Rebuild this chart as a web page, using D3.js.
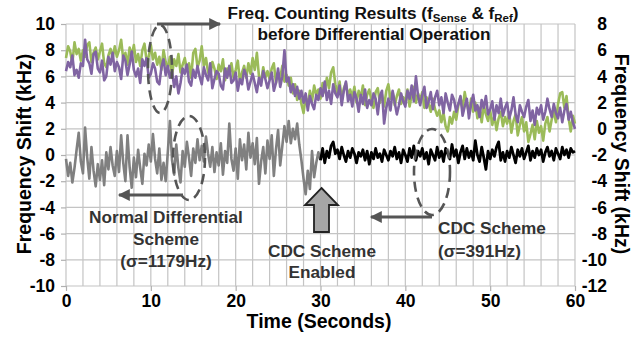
<!DOCTYPE html>
<html>
<head>
<meta charset="utf-8">
<script src="https://cdn.jsdelivr.net/npm/d3@7"></script>
<style>
  html, body { margin: 0; padding: 0; background: #fff; }
  svg { display: block; font-family: "Liberation Sans", Arial, sans-serif; }
</style>
</head>
<body>
<svg id="chart" width="632" height="338"></svg>
<script>
// Sample spacing of the counter output (seconds)
const sampleStep = 0.25;

// f_Sense counting result (right axis, kHz), 0–60 s
const senseValues = [
  5.4, 6.3, 5.9, 5.0, 6.6, 5.7, 6.1, 5.2,
  6.0, 5.5, 6.4, 6.6, 5.1, 5.8, 6.2, 5.3,
  5.9, 6.5, 5.0, 4.7, 5.6, 6.1, 5.4, 6.3,
  5.5, 6.0, 6.8, 5.3, 5.8, 4.9, 6.2, 5.6,
  6.4, 5.1, 5.7, 4.8, 6.0, 6.5, 5.2, 5.5,
  6.4, 5.3, 5.8, 4.9, 5.5, 4.5, 6.0, 5.1,
  4.6, 5.5, 4.1, 5.3, 4.8, 5.7, 4.3, 4.9,
  5.4, 4.5, 5.0, 3.9, 5.8, 6.1, 4.7, 5.2,
  6.3, 4.8, 5.4, 4.3, 4.0, 5.1, 4.6, 3.8,
  4.9, 4.4, 5.3, 3.7, 4.6, 4.1, 5.0, 3.9,
  4.5, 5.2, 3.6, 4.3, 4.8, 3.9, 5.0, 4.2,
  5.4, 4.5, 5.8, 4.0, 3.6, 4.7, 3.9, 4.4,
  3.8, 4.6, 5.0, 3.5, 4.3, 3.9, 4.8, 3.6,
  4.1, 3.3, 3.9, 2.7, 3.4, 2.2, 2.9, 1.9,
  1.2, 2.4, 1.8, 2.9, 2.1, 3.3, 2.6, 3.0,
  2.3, 3.5, 2.8, 3.9, 3.1, 4.3, 4.7, 3.4,
  2.7, 3.6, 2.2, 3.1, 3.5, 2.5, 3.0, 2.4,
  3.2, 2.0, 2.9, 2.4, 3.3, 1.8, 2.6, 3.0,
  2.2, 1.6, 2.8, 3.1, 2.0, 2.6, 1.7, 2.9,
  3.4, 2.3, 2.8, 1.8, 2.5, 3.0, 1.9, 2.4,
  2.1, 3.0, 1.7, 2.6, 3.2, 2.0, 2.7, 2.2,
  2.8, 1.6, 2.4, 1.9, 1.3, 2.3, 1.5, 1.0,
  1.4, 0.5, 1.2, 0.2, -0.2, 0.9, 0.4, 1.3,
  0.7, 1.8, 2.4, 1.5, 2.8, 1.9, 1.2, 2.3,
  1.3, 2.0, 0.8, 1.6, 0.5, 1.8, 1.1, 0.6,
  1.4, 0.3, 1.0, -0.1, 0.8, 1.3, 0.2, 0.9,
  0.4, 1.2, -0.3, 0.6, 1.1, -0.5, 0.3, 0.9,
  -0.2, 0.5, -1.0, -0.4, 0.3, -0.8, 0.6, -0.3,
  0.2, -0.9, 0.4, 0.9, -0.2, 0.7, 1.4, 0.5,
  1.9, 2.7, 2.8, 1.6, 2.5, 0.8, -0.2, 1.0,
  0.4
];

// f_Ref counting result (right axis, kHz), 0–60 s
const refValues = [
  4.4, 5.1, 4.7, 5.6, 4.1, 4.5, 3.9, 5.0,
  4.8, 6.8, 5.3, 5.0, 4.2, 5.7, 5.9, 4.6,
  4.3, 5.2, 3.7, 4.0, 5.5, 4.9, 5.8, 4.4,
  5.1, 4.7, 3.8, 5.6, 5.2, 4.1, 4.9, 5.9,
  4.5, 4.0, 4.6, 3.5, 5.3, 4.8, 5.4, 3.9,
  4.2, 5.0, 4.6, 3.6, 3.4, 4.7, 5.3, 4.1,
  4.8, 3.9, 4.4, 3.2, 4.0, 2.7, 3.5, 4.6,
  4.2, 4.9, 3.6, 3.3, 4.5, 3.9, 4.8, 4.0,
  3.4, 4.7, 4.1, 3.7, 5.0, 3.1, 3.8, 4.4,
  4.2, 3.3, 3.0, 4.6, 3.9, 4.8, 3.5, 3.7,
  4.3, 2.9, 3.8, 3.4, 4.5, 4.1, 3.0, 3.6,
  4.2, 3.5, 2.8, 3.9, 3.3, 4.4, 3.8, 3.1,
  3.7, 4.3, 2.9, 3.5, 4.6, 3.2, 4.0, 6.0,
  3.6, 3.9, 2.8, 3.4, 2.5, 3.2, 2.3, 2.9,
  2.0, 2.7, 1.4, 2.5, 1.9, 1.5, 2.6, 2.2,
  3.1, 2.5, 3.6, 2.2, 2.9, 1.9, 3.4, 2.7,
  2.4, 3.3, 1.8, 2.9, 3.6, 2.1, 2.6, 1.7,
  2.8, 2.3, 1.3, 2.6, 1.9, 3.0, 1.6, 2.2,
  1.8, 2.7, 2.3, 1.1, 2.5, 2.9, 0.4, 1.6,
  2.3, 1.4, 2.9, 2.0, 1.1, 1.8, 2.7, 2.1,
  1.7, 2.9, 2.3, 3.3, 2.1, 4.0, 2.5, 1.8,
  2.6, 3.2, 1.6, 2.1, 2.8, 1.5, 2.4, 2.9,
  1.8, 2.4, 1.2, 2.7, 2.0, 1.4, 2.6, 2.2,
  1.3, 1.9, 2.5, 1.0, 1.7, 2.3, 0.8, 1.9,
  2.6, 1.4, 1.8, 0.9, 2.2, 1.6, 2.5, 1.1,
  1.5, 2.1, 0.7, 1.8, 1.2, 2.3, 1.0, 1.6,
  2.0, 0.8, 1.4, 2.4, 1.1, 0.5, 1.8, 1.3,
  0.9, 1.7, 2.2, 0.6, 1.4, 0.3, 1.6, 1.1,
  1.8, 0.7, 1.3, 2.3, 1.5, 0.9, 1.9, 1.2,
  0.8, 1.6, 0.5, 1.4, 1.9, 0.7, 1.3, 0.5,
  0.0
];

// Normal differential result (left axis, kHz), 0–30 s
const normalDiffValues = [
  -0.3, -1.6, -0.6, -2.1, -1.0, 0.4, 1.7, -0.5,
  -1.4, 2.1, -0.2, -1.8, 0.6, -1.2, -2.4, -0.7,
  -1.9, -0.4, -2.3, 0.2, -1.1, 0.6, -0.8, -1.6,
  0.3, -1.3, 1.5, -0.6, -2.0, 1.5, -0.9, -2.5,
  -0.2, -1.7, 0.4, -1.0, -2.2, 0.1, -0.8, 0.8,
  -0.5, 1.6, -0.3, -1.4, 0.5, -1.9, -0.6, -2.0,
  0.2, 2.6, -0.4, -1.5, 0.8, -1.0, -2.1, 0.3,
  -0.9, 1.0, -0.2, -1.6, 0.5, -0.6, 1.2, -0.4,
  0.7, -0.5, 1.4, 0.1, -0.9, 0.6, -1.3, 0.2,
  -0.8, 0.9, -1.5, 0.3, -0.6, 2.4, -0.3, -1.2,
  0.5, -1.8, 1.2, -0.4, 0.8, -1.1, 1.7, -0.2,
  0.9, -0.7, 1.3, -2.2, -0.5, 0.6, -1.4, 1.1,
  -0.3, 1.5, -1.6, 0.4, 1.9, -0.8, 0.7, 2.2,
  1.0, 2.6, 0.9, 2.0, 1.2, 2.4, 0.8, -0.4,
  -1.8, -3.0, -1.2, -2.6, 0.3, -1.7, -0.6, 0.2,
  -0.4
];

// CDC scheme result (left axis, kHz), 30–60 s
const cdcValues = [
  -0.4, 0.5, -0.6, 0.3, -0.2, 0.7, 1.0, 0.1,
  0.4, -0.3, 0.6, 0.0, -0.5, 0.3, -0.2, 0.5,
  0.1, -0.6, 0.2, -0.1, 0.4, -0.4, 0.3, -0.7,
  0.2, -0.3, 0.5, -0.2, 0.1, -0.5, 0.4, 0.0,
  -0.4, 0.3, -0.1, 0.6, -0.3, 0.2, -0.6, 0.4,
  0.0, -0.5, 0.5, -0.2, 0.7, -0.4, 0.3, -0.1,
  0.5, -0.3, 0.2, -0.7, 0.4, 0.0, -0.4, 0.6,
  -0.2, 0.3, -0.5, 0.5, 0.1, -0.3, 0.8, -0.1,
  0.4, -0.6, 0.2, 0.7, -0.3, 0.5, -0.2, 0.3,
  -0.4, 1.1, 0.0, -0.5, 0.6, -0.2, -1.1, 0.3,
  -0.3, 0.4, -0.1, 0.6, 1.0, -0.4, 0.2, -0.5,
  0.3, -0.2, 0.6, 0.0, -0.6, 0.4, -0.1, 0.5,
  -0.3, 0.2, 0.7, -0.4, 0.3, -0.2, 0.5, 0.0,
  0.4, -0.5, 0.2, 0.6, -0.1, 0.3, -0.4, 0.5,
  0.1, -0.3, 0.6, 0.0, 0.4, -0.2, 0.5, 0.2,
  0.3
];
const cdcStart = 30;

// Axis ticks
const xTicks = [0, 10, 20, 30, 40, 50, 60];
const leftTicks = [-10, -8, -6, -4, -2, 0, 2, 4, 6, 8, 10];
const rightTicks = [-12, -10, -8, -6, -4, -2, 0, 2, 4, 6, 8];

const svg = d3.select("#chart");
const plot = { left: 66, right: 575, top: 24, bottom: 286 };

const x = d3.scaleLinear().domain([0, 60]).range([plot.left, plot.right]);
const yL = d3.scaleLinear().domain([-10, 10]).range([plot.bottom, plot.top]);
const yR = d3.scaleLinear().domain([-12, 8]).range([plot.bottom, plot.top]);

// Grid: every 2 s and every 2 kHz
const grid = svg.append("g").attr("stroke", "#c4c4c4").attr("stroke-width", 1.2);
grid.selectAll("line.v").data(d3.range(0, 61, 2)).join("line")
  .attr("x1", d => x(d)).attr("x2", d => x(d))
  .attr("y1", plot.top).attr("y2", plot.bottom);
grid.selectAll("line.h").data(d3.range(-10, 11, 2)).join("line")
  .attr("x1", plot.left).attr("x2", plot.right)
  .attr("y1", d => yL(d)).attr("y2", d => yL(d));

// Axes (plain hyphen for negatives)
const fmt = d => String(d);
const tickFont = g => g.selectAll("text")
  .attr("font-size", 17.5).attr("font-weight", "bold").attr("fill", "#000")
  .attr("font-family", "'Liberation Sans', Arial, sans-serif");
const axisStyle = g => {
  g.select(".domain").remove();
  g.selectAll(".tick line").attr("stroke", "#b0b0b0").attr("stroke-width", 1.2);
};

svg.append("g").attr("transform", `translate(0,${plot.bottom})`)
  .call(d3.axisBottom(x).tickValues(xTicks).tickSize(5).tickPadding(4).tickFormat(fmt))
  .call(axisStyle).call(tickFont);

svg.append("g").attr("transform", `translate(${plot.left},0)`)
  .call(d3.axisLeft(yL).tickValues(leftTicks).tickSize(5).tickPadding(6).tickFormat(fmt))
  .call(axisStyle).call(tickFont);

svg.append("g").attr("transform", `translate(607,0)`)
  .call(d3.axisLeft(yR).tickValues(rightTicks).tickSize(0).tickPadding(0).tickFormat(fmt))
  .call(axisStyle).call(tickFont);

// Axis titles
const titleFont = sel => sel.attr("font-size", 19.5).attr("font-weight", "bold").attr("fill", "#000");
svg.append("text").call(titleFont)
  .attr("transform", `translate(31,154) rotate(-90)`).attr("text-anchor", "middle")
  .text("Frequency Shift (kHz)");
svg.append("text").call(titleFont)
  .attr("transform", `translate(615,154) rotate(90)`).attr("text-anchor", "middle")
  .text("Frequency Shift (kHz)");
svg.append("text").call(titleFont)
  .attr("x", 319).attr("y", 328).attr("text-anchor", "middle")
  .text("Time (Seconds)");

// Traces
const lineR = d3.line().x((d, i) => x(i * sampleStep)).y(d => yR(d));
const lineNormal = d3.line().x((d, i) => x(i * sampleStep)).y(d => yL(d));
const lineCdc = d3.line().x((d, i) => x(cdcStart + i * sampleStep)).y(d => yL(d));

svg.append("path").datum(senseValues).attr("d", lineR)
  .attr("fill", "none").attr("stroke", "#9BBB59").attr("stroke-width", 2.6).attr("stroke-linejoin", "round");
svg.append("path").datum(refValues).attr("d", lineR)
  .attr("fill", "none").attr("stroke", "#8064A2").attr("stroke-width", 2.6).attr("stroke-linejoin", "round");
svg.append("path").datum(normalDiffValues).attr("d", lineNormal)
  .attr("fill", "none").attr("stroke", "#808080").attr("stroke-width", 2.6).attr("stroke-linejoin", "round");
svg.append("path").datum(cdcValues).attr("d", lineCdc)
  .attr("fill", "none").attr("stroke", "#000").attr("stroke-width", 2.8).attr("stroke-linejoin", "round");

// Annotations
const defs = svg.append("defs");
defs.append("marker").attr("id", "head").attr("viewBox", "0 0 10 10")
  .attr("refX", 9).attr("refY", 5).attr("markerWidth", 4.5).attr("markerHeight", 4)
  .attr("markerUnits", "strokeWidth").attr("orient", "auto")
  .append("path").attr("d", "M0,0 L10,5 L0,10 Z").attr("fill", "#555");

const annoColor = "#555";
const ellipse = (cx, cy, rx, ry) => svg.append("ellipse")
  .attr("cx", cx).attr("cy", cy).attr("rx", rx).attr("ry", ry)
  .attr("fill", "none").attr("stroke", annoColor).attr("stroke-width", 2.6)
  .attr("stroke-dasharray", "10,6");
ellipse(160, 69, 12, 44);
ellipse(189, 158, 16, 42);
ellipse(432, 172, 18, 43);

const arrow = (x1, y1, x2, y2) => svg.append("line")
  .attr("x1", x1).attr("y1", y1).attr("x2", x2).attr("y2", y2)
  .attr("stroke", annoColor).attr("stroke-width", 3).attr("marker-end", "url(#head)");
arrow(157, 24, 220, 24);
arrow(183, 195, 119, 195);
arrow(432, 217, 371, 217);

// "CDC Scheme Enabled" block arrow
svg.append("path")
  .attr("d", "M321.5,188 L338,205 L329,205 L329,232 L314,232 L314,205 L305,205 Z")
  .attr("fill", "#a6a6a6").attr("stroke", "#222").attr("stroke-width", 1.8)
  .attr("stroke-linejoin", "miter");

// Text labels
const label = (tx, ty, str, anchor) => svg.append("text")
  .attr("x", tx).attr("y", ty).attr("text-anchor", anchor || "middle")
  .attr("font-size", 17.2).attr("font-weight", "bold").attr("fill", "#333")
  .text(str);

const title = svg.append("text").attr("x", 373).attr("y", 19).attr("text-anchor", "middle")
  .attr("font-size", 17.2).attr("font-weight", "bold").attr("fill", "#111");
title.append("tspan").text("Freq. Counting Results (f");
title.append("tspan").attr("font-size", 11.5).attr("dy", 3).text("Sense");
title.append("tspan").attr("dy", -3).text(" & f");
title.append("tspan").attr("font-size", 11.5).attr("dy", 3).text("Ref");
title.append("tspan").attr("dy", -3).text(")");
svg.append("text").attr("x", 374).attr("y", 40).attr("text-anchor", "middle")
  .attr("font-size", 17.2).attr("font-weight", "bold").attr("fill", "#111")
  .text("before Differential Operation");

label(166, 223, "Normal Differential");
label(166, 245, "Scheme");
label(166, 267, "(σ=1179Hz)");
label(322, 257, "CDC Scheme");
label(322, 278, "Enabled");
label(438, 234, "CDC Scheme", "start");
label(438, 257, "(σ=391Hz)", "start");
</script>
</body>
</html>
